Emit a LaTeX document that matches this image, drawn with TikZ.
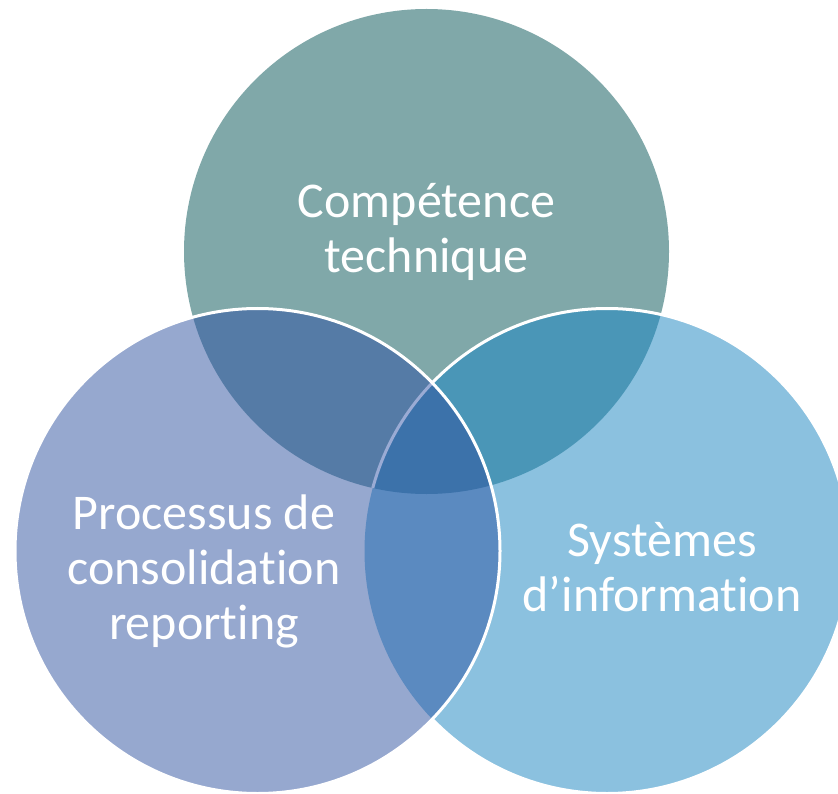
\documentclass[tikz,border=0pt]{standalone}
\usepackage{fontspec}
\setmainfont{Carlito}[Ligatures=CommonOff]
\usepackage{tikz}

\definecolor{competc}{HTML}{80A8A9}
\definecolor{procc}{HTML}{96A8CF}
\definecolor{sysc}{HTML}{8BC1DF}
\definecolor{compprocc}{HTML}{557BA6}
\definecolor{compsysc}{HTML}{4A96B7}
\definecolor{procsysc}{HTML}{5B8AC0}
\definecolor{allc}{HTML}{3C72AA}
\definecolor{faintc}{HTML}{9AABD4}

\tikzset{
  ring/.style={white, line width=3pt},
  circ text/.style={text=white, align=center, inner sep=0pt,
    font=\fontsize{50}{55}\selectfont},
}

\begin{document}
\begin{tikzpicture}[x=1pt,y=-1pt]
      \useasboundingbox (0,0) rectangle (838,794);
      \clip (0,0) rectangle (838,794);
      \def\rad{242.5pt}

      \coordinate (ctop) at (426.5,251.5);
      \coordinate (cleft) at (257.5,551);
      \coordinate (cright) at (607,551);

      % back circles
      \fill[competc] (ctop) circle[radius=\rad];
      \fill[sysc] (cright) circle[radius=\rad];
      \begin{scope}
        \clip (ctop) circle[radius=\rad];
        \fill[compsysc] (cright) circle[radius=\rad];
      \end{scope}
      \draw[ring] (cright) circle[radius=\rad];

      % left circle on top
      \fill[procc] (cleft) circle[radius=\rad];
      \begin{scope}
        \clip (cleft) circle[radius=\rad];
        \fill[compprocc] (ctop) circle[radius=\rad];
        \fill[procsysc] (cright) circle[radius=\rad];
        \clip (ctop) circle[radius=\rad];
        \fill[allc] (cright) circle[radius=\rad];
        \draw[faintc, line width=3pt] (cright) circle[radius=\rad];
      \end{scope}
      \draw[ring] (cleft) circle[radius=\rad];

      \node[circ text] (compet) at (426.5,232) {Compétence\\technique};
      \node[circ text] (process) at (204,571.5) {Processus de\\consolidation\\reporting};
      \node[circ text] (systems) at (662,567) {Systèmes\\d’information};
\end{tikzpicture}
\end{document}
